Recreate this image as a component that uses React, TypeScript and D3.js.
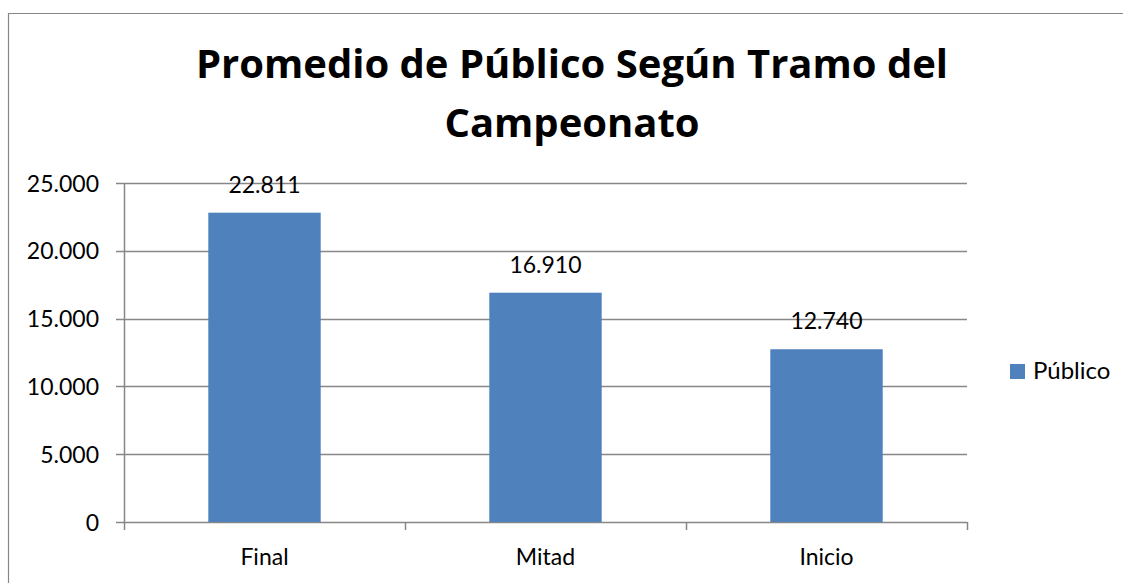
import React, { useEffect, useRef } from 'react';
import * as d3 from 'd3';

const categories = ['Final', 'Mitad', 'Inicio'];
const publico = [22811, 16910, 12740];
const yTicks = [0, 5000, 10000, 15000, 20000, 25000];
const seriesName = 'Público';
const titleLines = ['Promedio de Público Según Tramo del', 'Campeonato'];

const App = () => {
    const svgRef = useRef<SVGSVGElement>(null);

    useEffect(() => {
        document.body.style.margin = '0';
        const svg = d3.select(svgRef.current);
        const width = 1123;
        const height = 583;
        const font = 'Lato, "Open Sans", sans-serif';
        const grey = '#878787';

        svg.selectAll('*').remove();
        svg.attr('width', width).attr('height', height);

        const fmt = d3.formatLocale({ decimal: ',', thousands: '.', grouping: [3], currency: ['', ''] }).format(',d');

        // chart area border (right/bottom fall outside the picture)
        svg.append('path')
            .attr('d', `M8.5,${height} V13.5 H${width}`)
            .attr('fill', 'none')
            .attr('stroke', grey)
            .attr('stroke-width', 1.2);

        // title
        svg.append('g')
            .selectAll('text')
            .data(titleLines)
            .enter().append('text')
            .attr('x', 572)
            .attr('y', (d, i) => 78 + i * 59)
            .attr('text-anchor', 'middle')
            .style('font-family', '"Open Sans", sans-serif')
            .style('font-weight', 'bold')
            .style('font-size', '40px')
            .attr('fill', '#000')
            .text(d => d);

        const x = d3.scaleBand()
            .domain(categories)
            .range([124, 967])
            .paddingInner(0.6)
            .paddingOuter(0.3);

        const y = d3.scaleLinear()
            .domain([0, 25000])
            .range([522, 183]);

        // gridlines
        svg.append('g')
            .selectAll('line')
            .data(yTicks)
            .enter().append('line')
            .attr('x1', 116)
            .attr('x2', 967)
            .attr('y1', d => Math.round(y(d)) + 0.5)
            .attr('y2', d => Math.round(y(d)) + 0.5)
            .attr('stroke', grey)
            .attr('stroke-width', 1.5);

        // y labels
        svg.append('g')
            .selectAll('text')
            .data(yTicks)
            .enter().append('text')
            .attr('x', 99)
            .attr('y', d => y(d) + 8.5)
            .attr('text-anchor', 'end')
            .style('font-family', font)
            .style('font-size', '23px')
            .attr('fill', '#000')
            .text(d => fmt(d));

        // y axis line
        svg.append('line')
            .attr('x1', 124.5).attr('x2', 124.5)
            .attr('y1', 183).attr('y2', 530)
            .attr('stroke', grey)
            .attr('stroke-width', 1.5);

        // category boundary ticks
        const bounds = categories.map(c => (x(c) as number) - x.step() * 0.3).concat([967]);
        svg.append('g')
            .selectAll('line')
            .data(bounds.slice(1))
            .enter().append('line')
            .attr('x1', d => Math.round(d) + 0.5)
            .attr('x2', d => Math.round(d) + 0.5)
            .attr('y1', 522)
            .attr('y2', 530)
            .attr('stroke', grey)
            .attr('stroke-width', 1.5);

        // bars
        svg.append('g')
            .selectAll('rect')
            .data(publico)
            .enter().append('rect')
            .attr('x', (d, i) => x(categories[i]) as number)
            .attr('y', d => y(d))
            .attr('width', x.bandwidth())
            .attr('height', d => 522 - y(d))
            .attr('fill', '#4F81BD');

        // data labels
        svg.append('g')
            .selectAll('text')
            .data(publico)
            .enter().append('text')
            .attr('x', (d, i) => (x(categories[i]) as number) + x.bandwidth() / 2)
            .attr('y', d => y(d) - 20)
            .attr('text-anchor', 'middle')
            .style('font-family', font)
            .style('font-size', '23px')
            .attr('fill', '#000')
            .text(d => fmt(d));

        // category labels
        svg.append('g')
            .selectAll('text')
            .data(categories)
            .enter().append('text')
            .attr('x', d => (x(d) as number) + x.bandwidth() / 2)
            .attr('y', 565)
            .attr('text-anchor', 'middle')
            .style('font-family', font)
            .style('font-size', '23px')
            .attr('fill', '#000')
            .text(d => d);

        // legend
        const legend = svg.append('g').attr('transform', 'translate(1010,364)');
        legend.append('rect')
            .attr('width', 15)
            .attr('height', 15)
            .attr('fill', '#4F81BD');
        legend.append('text')
            .attr('x', 23)
            .attr('y', 15)
            .style('font-family', font)
            .style('font-size', '24px')
            .attr('fill', '#000')
            .text(seriesName);
    }, []);

    return (
        <svg ref={svgRef} style={{ display: 'block' }}></svg>
    );
};

export default App;
